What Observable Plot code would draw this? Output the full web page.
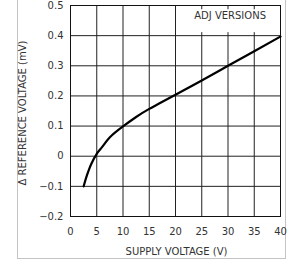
<!DOCTYPE html>
<html>
<head>
<meta charset="utf-8">
<script src="https://cdn.jsdelivr.net/npm/d3@7"></script>
<script src="https://cdn.jsdelivr.net/npm/@observablehq/plot@0.6"></script>
<style>
  html, body { margin: 0; padding: 0; background: #fff; }
  #wrap { position: relative; width: 287px; height: 262px; overflow: hidden; }
  #border { position: absolute; left: 17px; top: -2px; width: 267px; height: 260px;
            border-left: 1px solid #c4c4c4; border-right: 1px solid #c4c4c4; border-bottom: 1px solid #c4c4c4; }
  #chart { position: absolute; left: 0; top: 0; }
</style>
</head>
<body>
<div id="wrap"><div id="border"></div><div id="chart"></div></div>
<script>
// Series
const supplyV  = [2.5, 3, 3.5, 4, 5, 6, 7.5, 10, 12.5, 15, 20, 25, 30, 35, 40];
const deltaRef = [-0.1, -0.07, -0.045, -0.024, 0.008, 0.03, 0.063, 0.099, 0.13, 0.157, 0.204, 0.251, 0.30, 0.348, 0.397];

// Ticks
const xTicks = [0, 5, 10, 15, 20, 25, 30, 35, 40];
const yTicks = [-0.2, -0.1, 0, 0.1, 0.2, 0.3, 0.4, 0.5];
const yTickLabels = ["\u22120.2", "\u22120.1", "0", "0.1", "0.2", "0.3", "0.4", "0.5"];

// Texts
const xTitle = "SUPPLY VOLTAGE (V)";
const yTitle = "\u0394 REFERENCE VOLTAGE (mV)";
const noteText = ["ADJ VERSIONS"];
const noteBox = [{x1: 22.6, x2: 40, y1: 0.41, y2: 0.486}];
const notePos = [{x: 30.4, y: 0.466}];

const data = supplyV.map((v, i) => ({v, d: deltaRef[i]}));
const font = "DejaVu Sans, sans-serif";

const chart = Plot.plot({
  width: 287,
  height: 262,
  marginLeft: 70,
  marginRight: 7,
  marginTop: 5,
  marginBottom: 46,
  style: {fontFamily: font, fontSize: "10px", color: "#333", background: "transparent"},
  x: {domain: [0, 40], ticks: xTicks, label: null},
  y: {domain: [-0.2, 0.5], ticks: yTicks, label: null},
  marks: [
    Plot.gridX(xTicks, {stroke: "#222", strokeOpacity: 1, strokeWidth: 1}),
    Plot.gridY(yTicks, {stroke: "#222", strokeOpacity: 1, strokeWidth: 1}),
    Plot.rect(noteBox, {x1: "x1", x2: "x2", y1: "y1", y2: "y2", fill: "white"}),
    Plot.frame({stroke: "#111", strokeWidth: 1}),
    Plot.axisX({ticks: xTicks, tickSize: 0, tickPadding: 11, fill: "#333", label: null}),
    Plot.axisY({ticks: yTicks, tickSize: 0, tickPadding: 7, fill: "#333", label: null,
                tickFormat: (d) => yTickLabels[yTicks.findIndex(t => Math.abs(t - d) < 1e-9)]}),
    Plot.line(data, {x: "v", y: "d", curve: "natural", stroke: "#000", strokeWidth: 2.2}),
    Plot.text(notePos, {x: "x", y: "y", text: () => noteText[0], fill: "#333", fontSize: 10}),
    Plot.text([xTitle], {frameAnchor: "bottom", lineAnchor: "middle", textAnchor: "middle", dy: 35, dx: 1, text: d => d, fill: "#333", fontSize: 10, style: "letter-spacing:0.9px"}),
    Plot.text([yTitle], {frameAnchor: "left", lineAnchor: "middle", textAnchor: "middle", dx: -48, dy: 2, rotate: -90, text: d => d, fill: "#333", fontSize: 10, style: "letter-spacing:0.6px"})
  ]
});
document.getElementById("chart").appendChild(chart);
</script>
</body>
</html>
